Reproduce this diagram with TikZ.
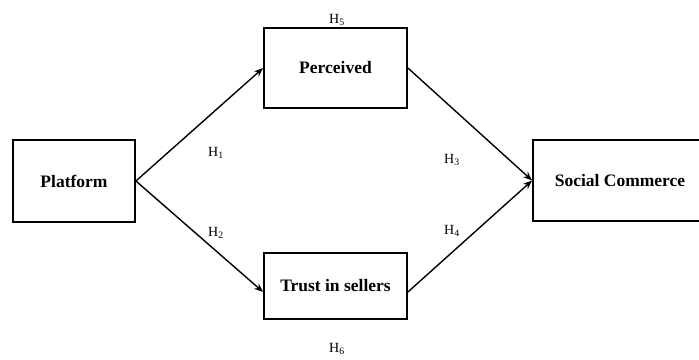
\documentclass[tikz,border=0pt]{standalone}
\usepackage{fontspec}
\setmainfont{Liberation Serif}
\usetikzlibrary{arrows.meta}

\begin{document}
\begin{tikzpicture}[
        x=1pt, y=-1pt,
        box/.style={draw, line width=1.8pt, inner sep=0pt, font=\fontsize{17.5}{20}\selectfont\bfseries},
        link/.style={draw, line width=1.4pt, -{Stealth[length=9pt,width=7pt]}},
        hyp/.style={font=\fontsize{14}{16}\selectfont}
    ]
        \useasboundingbox (0,0) rectangle (699,359);
        \node[box, minimum width=122pt, minimum height=82pt] (platform) at (74,181) {Platform};
        \node[box, minimum width=143pt, minimum height=80pt] (perceived) at (335.5,68) {Perceived};
        \node[box, minimum width=143pt, minimum height=66pt] (trust) at (335.5,286) {Trust in sellers};
        \node[box, minimum width=174pt, minimum height=81pt] (social) at (620,180.5) {Social Commerce};

        \draw[link] (platform.east) -- (perceived.west);
        \draw[link] (platform.east) -- ([yshift=-6pt]trust.west);
        \draw[link] (perceived.east) -- (social.west);
        \draw[link] ([yshift=-6pt]trust.east) -- (social.west);

        % hypotheses
        \node[hyp] (h1) at (216,153) {H\textsubscript{1}};
        \node[hyp] (h2) at (216,233) {H\textsubscript{2}};
        \node[hyp] (h3) at (452,160) {H\textsubscript{3}};
        \node[hyp] (h4) at (452,231) {H\textsubscript{4}};
        \node[hyp] (h5) at (337,20) {H\textsubscript{5}};
        \node[hyp] (h6) at (337,349) {H\textsubscript{6}};
    \end{tikzpicture}
\end{document}
